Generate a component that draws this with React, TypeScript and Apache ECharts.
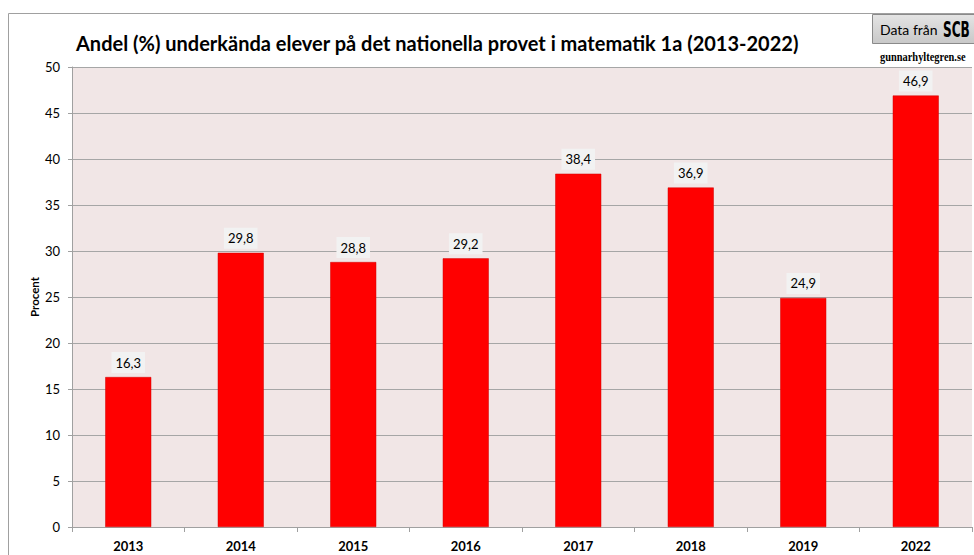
import React, { useEffect, useRef } from "react";
import * as echarts from "echarts";

const categories = ["2013", "2014", "2015", "2016", "2017", "2018", "2019", "2022"];
const values = [16.3, 29.8, 28.8, 29.2, 38.4, 36.9, 24.9, 46.9];
const titleText = "Andel (%) underkända elever på det nationella provet i matematik 1a (2013-2022)";
const yAxisName = "Procent";

export default function App() {
  const ref = useRef<HTMLDivElement>(null);
  useEffect(() => {
    if (!ref.current) return;
    const chart = echarts.init(ref.current, null, { renderer: "svg" });
    const font = "Lato, 'Open Sans', sans-serif";
    chart.setOption({
      animation: false,
      backgroundColor: "#ffffff",
      textStyle: { fontFamily: font },
      title: {
        text: titleText,
        left: 71,
        top: 28,
        textStyle: { fontFamily: font, fontSize: 20, fontWeight: "bold", color: "#000" },
      },
      grid: {
        left: 72,
        top: 67,
        right: 2,
        bottom: 28,
        show: true,
        backgroundColor: "#F1E6E6",
        borderWidth: 0,
      },
      xAxis: {
        type: "category",
        data: categories,
        axisLine: { show: true, lineStyle: { color: "#A0A0A0", width: 1 } },
        axisTick: { show: true, alignWithLabel: false, length: 5, lineStyle: { color: "#A0A0A0" } },
        axisLabel: { fontFamily: font, fontSize: 13, fontWeight: "bold", color: "#000", margin: 12 },
      },
      yAxis: {
        type: "value",
        min: 0,
        max: 50,
        interval: 5,
        axisLine: { show: true, lineStyle: { color: "#A0A0A0", width: 1 } },
        axisTick: { show: true, length: 4, lineStyle: { color: "#A0A0A0" } },
        axisLabel: { fontFamily: font, fontSize: 13, color: "#000", margin: 12 },
        splitLine: { show: true, lineStyle: { color: "#A6A6A6", width: 1 } },
      },
      graphic: [
        {
          type: "rect",
          shape: { x: 8.5, y: 13.5, width: 1000, height: 600 },
          style: { fill: "none", stroke: "#A0A0A0", lineWidth: 1 },
          silent: true,
          z: -1,
        },
        {
          type: "text",
          x: 34,
          y: 297,
          rotation: Math.PI / 2,
          style: {
            text: yAxisName,
            font: "bold 11.5px Lato, 'Open Sans', sans-serif",
            fill: "#000",
            align: "center",
            verticalAlign: "middle",
          },
        },
        {
          type: "rect",
          shape: { x: 872.5, y: 14.5, width: 120, height: 29 },
          style: {
            fill: new echarts.graphic.LinearGradient(0, 0, 0, 1, [
              { offset: 0, color: "#E4E4E4" },
              { offset: 1, color: "#C8C8C8" },
            ]),
            stroke: "#8A8A8A",
            lineWidth: 1,
          },
        },
        {
          type: "text",
          x: 880,
          y: 29,
          style: {
            text: "Data från",
            font: "14px Lato, 'Open Sans', sans-serif",
            fill: "#000",
            verticalAlign: "middle",
          },
        },
        {
          type: "text",
          x: 943,
          y: 30,
          scaleX: 0.55,
          style: {
            text: "SCB",
            font: "bold 22px 'DejaVu Sans', sans-serif",
            fill: "#000",
            verticalAlign: "middle",
          },
        },
        {
          type: "text",
          x: 880,
          y: 57,
          scaleX: 0.8,
          style: {
            text: "gunnarhyltegren.se",
            font: "bold 13px 'Liberation Serif', serif",
            fill: "#000",
            verticalAlign: "middle",
          },
        },
      ],
      series: [
        {
          type: "bar",
          data: values,
          barWidth: 46,
          itemStyle: { color: "#FF0000", borderColor: "#D00000", borderWidth: 0.5 },
          label: {
            show: true,
            position: "top",
            distance: 4,
            fontFamily: font,
            fontSize: 13,
            color: "#000",
            backgroundColor: "#F2F2F2",
            padding: [4, 4, 4, 4],
            formatter: (p: any) => String(p.value.toFixed(1)).replace(".", ","),
          },
        },
      ],
    });
    return () => chart.dispose();
  }, []);
  return (
    <div
      ref={ref}
      style={{ position: "absolute", left: 0, top: 0, width: 974, height: 555 }}
    />
  );
}
